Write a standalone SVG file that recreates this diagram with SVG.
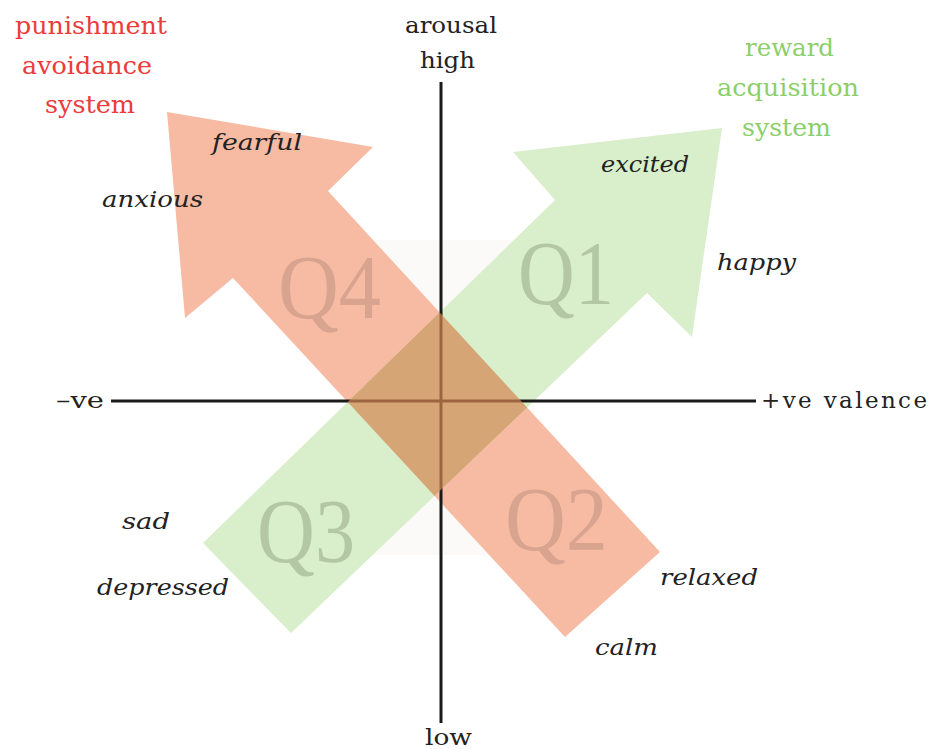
<svg xmlns="http://www.w3.org/2000/svg" width="931" height="749" viewBox="0 0 931 749">
<style>
.lbl{font-family:"DejaVu Serif","Liberation Serif",serif;font-size:23px;fill:#222}
.emo{font-family:"DejaVu Serif","Liberation Serif",serif;font-style:italic;font-size:22px;fill:#222}
.red{font-family:"DejaVu Serif","Liberation Serif",serif;font-size:24px;fill:#EC3B3B}
.grn{font-family:"DejaVu Serif","Liberation Serif",serif;font-size:24px;fill:#8CCF6A}
.q{font-family:"Liberation Serif","Times New Roman",serif;font-size:90px}
.qr{fill:#D8A48F}
.qg{fill:#B4C7A4}
.axis{stroke:#1a1a1a;stroke-width:3;fill:none}
</style>
<defs>
<polygon id="redShape" points="167,112 373,147 328,191 660,552 565,637 233,278 185,318"/>
<polygon id="greenShape" points="203,543 555,200 513,152 722,128 692,337 647,293 291,633"/>
<clipPath id="greenClip"><use href="#greenShape"/></clipPath>
</defs>
<rect width="931" height="749" fill="#ffffff"/>
<rect x="345" y="240" width="190" height="315" fill="#FBFAF9"/>
<g id="punishment-arrow">
<use href="#redShape" fill="#F7BBA3"/>
</g>
<g id="reward-arrow">
<use href="#greenShape" fill="#D9EECB"/>
</g>
<g id="axes">
<line class="axis" x1="441" y1="82" x2="441" y2="723"/>
<line class="axis" x1="111" y1="401" x2="756" y2="401"/>
</g>
<g id="overlap" clip-path="url(#greenClip)">
<use href="#redShape" fill="#D48651" opacity="0.7"/>
</g>
<g id="quadrants">
<text class="q qr" x="278" y="318" textLength="103" lengthAdjust="spacingAndGlyphs">Q4</text>
<text class="q qg" x="518" y="304" textLength="96" lengthAdjust="spacingAndGlyphs">Q1</text>
<text class="q qg" x="257" y="562" textLength="98" lengthAdjust="spacingAndGlyphs">Q3</text>
<text class="q qr" x="505" y="550" textLength="103" lengthAdjust="spacingAndGlyphs">Q2</text>
</g>
<g id="axis-labels">
<text class="lbl" x="405" y="33" textLength="92" lengthAdjust="spacingAndGlyphs">arousal</text>
<text class="lbl" x="420" y="68" textLength="55" lengthAdjust="spacingAndGlyphs">high</text>
<text class="lbl" x="425" y="745" textLength="47" lengthAdjust="spacingAndGlyphs">low</text>
<text class="lbl" x="56" y="408" textLength="48" lengthAdjust="spacingAndGlyphs">–ve</text>
<text class="lbl" x="761" y="408" textLength="166" lengthAdjust="spacing">+ve  valence</text>
</g>
<g id="punishment-label">
<text class="red" x="15" y="34" textLength="152" lengthAdjust="spacingAndGlyphs">punishment</text>
<text class="red" x="22" y="74" textLength="130" lengthAdjust="spacingAndGlyphs">avoidance</text>
<text class="red" x="45" y="113" textLength="90" lengthAdjust="spacingAndGlyphs">system</text>
</g>
<g id="reward-label">
<text class="grn" x="745" y="56" textLength="89" lengthAdjust="spacingAndGlyphs">reward</text>
<text class="grn" x="717" y="96" textLength="142" lengthAdjust="spacingAndGlyphs">acquisition</text>
<text class="grn" x="742" y="136" textLength="89" lengthAdjust="spacingAndGlyphs">system</text>
</g>
<g id="emotions">
<text class="emo" x="212" y="150" textLength="90" lengthAdjust="spacingAndGlyphs">fearful</text>
<text class="emo" x="102" y="207" textLength="101" lengthAdjust="spacingAndGlyphs">anxious</text>
<text class="emo" x="601" y="172" textLength="88" lengthAdjust="spacingAndGlyphs">excited</text>
<text class="emo" x="717" y="270" textLength="79" lengthAdjust="spacingAndGlyphs">happy</text>
<text class="emo" x="122" y="529" textLength="48" lengthAdjust="spacingAndGlyphs">sad</text>
<text class="emo" x="97" y="595" textLength="132" lengthAdjust="spacingAndGlyphs">depressed</text>
<text class="emo" x="660" y="585" textLength="98" lengthAdjust="spacingAndGlyphs">relaxed</text>
<text class="emo" x="595" y="655" textLength="63" lengthAdjust="spacingAndGlyphs">calm</text>
</g>
</svg>
